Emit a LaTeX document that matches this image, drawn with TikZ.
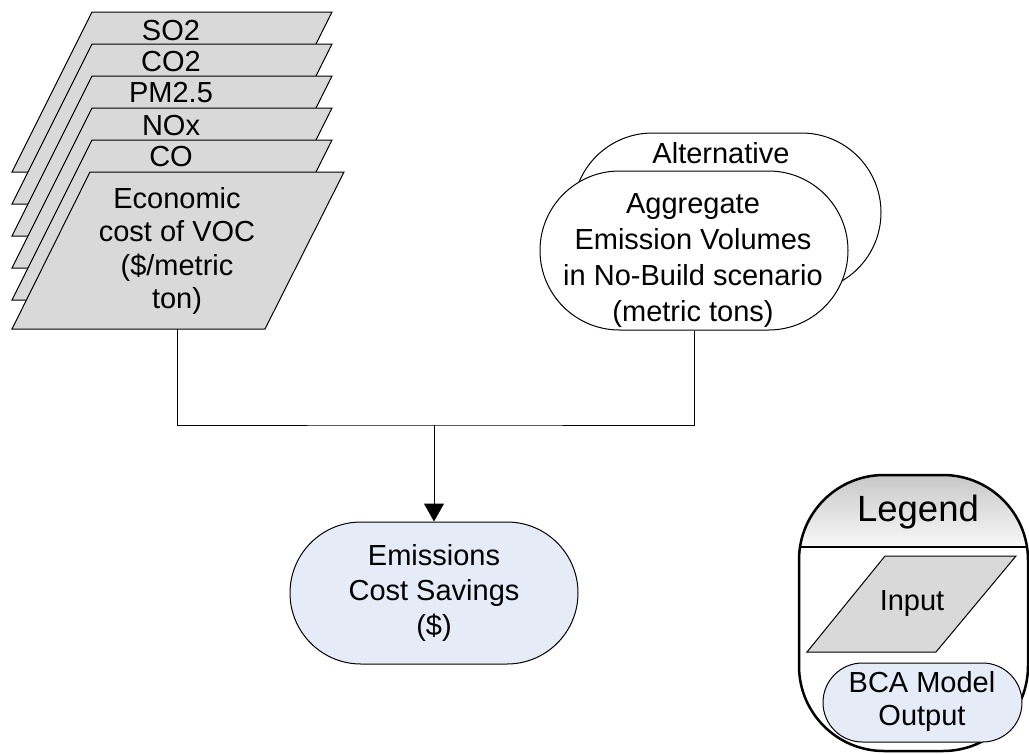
\documentclass[tikz,border=0pt]{standalone}
\usepackage{fontspec}
\setmainfont{Liberation Sans}
\usetikzlibrary{shapes.misc,arrows.meta}
\definecolor{inputgray}{RGB}{217,217,217}
\definecolor{outblue}{RGB}{230,236,247}
\definecolor{headtop}{RGB}{200,200,200}
\definecolor{headbot}{RGB}{248,248,248}
\begin{document}
\begin{tikzpicture}[x=1pt,y=-1pt,
  txt/.style={font=\fontsize{29}{#1}\selectfont, align=center, inner sep=0pt},
  txt/.default=34,
  inbox/.style={draw=black, line width=1pt, fill=inputgray, line join=miter},
  pill/.style={rounded rectangle, draw=black, line width=1pt, inner sep=0pt},
  wire/.style={draw=black, line width=1pt},
  frame/.style={draw=black, line width=2.5pt}
]
\useasboundingbox (0,0) rectangle (1029,753);

% stacked unit-cost inputs, drawn back to front
\draw[inbox] (92,12) -- (332,12) -- (252,172) -- (12,172) -- cycle;
\node[txt] (so2) at (171,31) {SO2};
\draw[inbox] (92,44) -- (332,44) -- (252,204) -- (12,204) -- cycle;
\node[txt] (co2) at (171,62) {CO2};
\draw[inbox] (92,76) -- (332,76) -- (252,236) -- (12,236) -- cycle;
\node[txt] (pm25) at (171,93) {PM2.5};
\draw[inbox] (92,108) -- (332,108) -- (252,268) -- (12,268) -- cycle;
\node[txt] (nox) at (171,126) {NOx};
\draw[inbox] (92,140) -- (332,140) -- (252,300) -- (12,300) -- cycle;
\node[txt] (co) at (171,157) {CO};
\draw[inbox] (90,172) -- (344,172) -- (265,329) -- (12,329) -- cycle;
\node[txt=33.5] (econ) at (177,251) {Economic\\cost of VOC\\(\$/metric\\ton)};
\coordinate (econbase) at (177,329);

% emission volumes, one per alternative
\node[pill, fill=white, minimum width=308pt, minimum height=159pt] (alt) at (727,212.5) {};
\node[txt] (altlabel) at (721,153) {Alternative};
\node[pill, fill=white, minimum width=308pt, minimum height=159pt] (agg) at (694,250.5) {};
\node[txt=36] (aggtext) at (693,261) {Aggregate\\Emission Volumes\\in No-Build scenario\\(metric tons)};

% result
\node[pill, fill=outblue, minimum width=288pt, minimum height=142pt] (emis) at (434,593) {};
\node[txt=35] (emistext) at (434,593) {Emissions\\Cost Savings\\(\$)};

% connectors
\coordinate (join) at (434,425);
\draw[wire] (econbase) |- (join) -| (agg.south);
\draw[wire, -{Triangle[width=20pt,length=18pt]}] (join) -- (emis.north);

% legend
\begin{scope}
  \clip[rounded corners=85pt] (799,475) rectangle (1028,751);
  \shade[top color=headtop, bottom color=headbot] (799,475) rectangle (1028,547);
\end{scope}
\draw[frame, rounded corners=85pt] (799,475) rectangle (1028,751);
\draw[frame] (799,547) -- (1028,547);
\node[font=\fontsize{36.5}{40}\selectfont, inner sep=0pt] (legend) at (918,512) {Legend};
\draw[inbox] (885,556) -- (1016,556) -- (936,652) -- (807,652) -- cycle;
\node[txt] (input) at (912,604) {Input};
\node[pill, fill=outblue, minimum width=199pt, minimum height=79pt] (bca) at (922.5,702.5) {};
\node[txt=33] (bcatext) at (922,701) {BCA Model\\Output};
\end{tikzpicture}
\end{document}
